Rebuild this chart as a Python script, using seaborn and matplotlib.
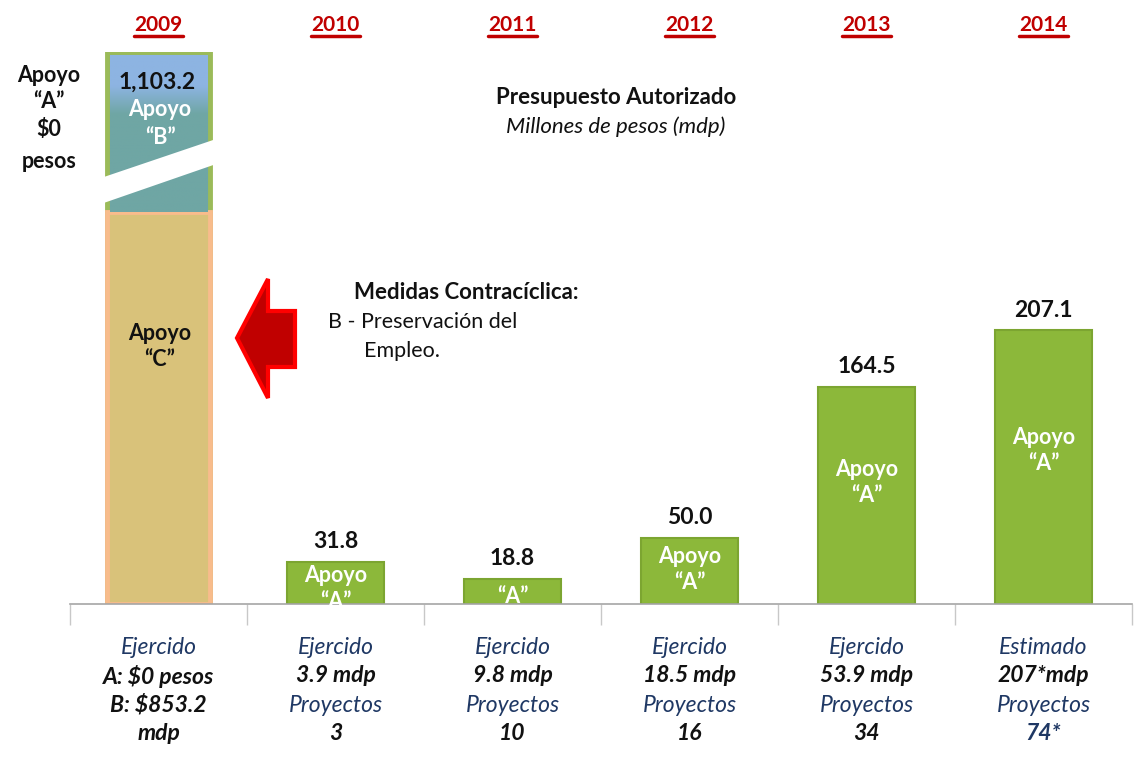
import numpy as np
import matplotlib
matplotlib.use("Agg")
import matplotlib.pyplot as plt
import seaborn as sns
from matplotlib import transforms
from matplotlib.patches import Polygon
from matplotlib.lines import Line2D

# --- data ---
years = ['2009', '2010', '2011', '2012', '2013', '2014']
autorizado = [1103.2, 31.8, 18.8, 50.0, 164.5, 207.1]
apoyo_c_2009 = 250.0
apoyo_b_2009 = 853.2
value_labels = ['1,103.2', '31.8', '18.8', '50.0', '164.5', '207.1']
inbar_labels = ['', 'Apoyo\n\u201cA\u201d', '\u201cA\u201d', 'Apoyo\n\u201cA\u201d',
                'Apoyo\n\u201cA\u201d', 'Apoyo\n\u201cA\u201d']

line1 = ['Ejercido', 'Ejercido', 'Ejercido', 'Ejercido', 'Ejercido', 'Estimado']
line2 = ['A: $0 pesos', '3.9 mdp', '9.8 mdp', '18.5 mdp', '53.9 mdp', '207*mdp']
line3 = ['B: $853.2', 'Proyectos', 'Proyectos', 'Proyectos', 'Proyectos', 'Proyectos']
line4 = ['mdp', '3', '10', '16', '34', '74*']

sns.set_style('white')
plt.rcParams['font.family'] = ['Lato', 'DejaVu Sans']

W, H = 1143, 761
fig = plt.figure(figsize=(W / 100, H / 100), dpi=100)


def fx(px):
    return px / W


def fy(py):
    return 1 - py / H


# axes: baseline at y=604px, 2009 bar top at y=52px
ax = fig.add_axes([fx(70), fy(604), fx(1132 - 70), (604 - 52) / H])

GREEN = '#8CB83A'
TEAL = '#6FA6A4'
LIGHTBLUE = '#8DB4E2'
TAN = '#D9C27A'
NAVY = '#1F3864'
DARKRED = '#C00000'
INK = '#111111'

total_2009 = apoyo_c_2009 + apoyo_b_2009
sns.barplot(x=years[:1], y=[total_2009], order=years, color=TEAL, width=0.58,
            edgecolor='#9BBB59', linewidth=3.5, saturation=1, ax=ax)
sns.barplot(x=years[:1], y=[apoyo_c_2009], order=years, color=TAN, width=0.58,
            edgecolor='#F8BC8C', linewidth=3.5, saturation=1, ax=ax)
sns.barplot(x=years[1:], y=autorizado[1:], order=years, color=GREEN, width=0.55,
            edgecolor='#7CA531', linewidth=1.5, saturation=1, ax=ax)

# broken-axis style scale: compress the tall 2009 bar
knots_data = np.array([-1000, 0, 215, apoyo_c_2009, total_2009, 3000])
knots_disp = np.array([-1300, 0, 284, 392, 552, 900])


def fwd(y):
    return np.interp(y, knots_data, knots_disp)


def inv(d):
    return np.interp(d, knots_disp, knots_data)


ax.set_yscale('function', functions=(fwd, inv))
ax.set_ylim(0, total_2009)
ax.set_xlim(-0.5, 5.5)
ax.set_yticks([])
ax.set_xticks([])
ax.set_xticks(np.arange(-0.5, 6, 1), minor=True)
ax.tick_params(axis='x', which='minor', direction='out', length=15, width=1,
               color='#C8C8C8', bottom=True)
for s in ['top', 'right', 'left']:
    ax.spines[s].set_visible(False)
ax.spines['bottom'].set_color('#A6A6A6')
ax.spines['bottom'].set_linewidth(1.2)
ax.set_xlabel('')
ax.set_ylabel('')
ax.patch.set_alpha(0)

green_bars = ax.patches[2:]

# value labels above green bars
for i in range(1, 6):
    ax.annotate(value_labels[i], (i, autorizado[i]), xytext=(0, 7),
                textcoords='offset points', ha='center', va='bottom',
                fontsize=16.5, fontweight='bold', color=INK, zorder=6)

# in-bar labels, clipped to their bar like the original
inbar_frac = [None, 0.36, 0.30, 0.52, 0.56, 0.56]
for i in range(1, 6):
    t = ax.text(i, autorizado[i] * inbar_frac[i], inbar_labels[i], ha='center',
                va='center', color='white', fontsize=15.5, fontweight='bold',
                linespacing=1.3, zorder=5)
    t.set_clip_path(green_bars[i - 1])

# gradient on the 2009 "B" segment
fig.canvas.draw()
bar_b = ax.patches[0]
bb = bar_b.get_window_extent()
y_c = ax.transData.transform((0, apoyo_c_2009))[1]
gx0, gx1 = bb.x0 + 2.5, bb.x1 - 2.5
gy0, gy1 = y_c, bb.y1 - 2.5
gax = fig.add_axes([gx0 / W, gy0 / H, (gx1 - gx0) / W, (gy1 - gy0) / H], zorder=0.5)
gax.axis('off')
n = 200
frac = np.linspace(0, 1, n)  # 0 = top
mix = np.interp(frac, [0, 0.2, 0.38, 1], [0, 0, 1, 1])
c_top = np.array(matplotlib.colors.to_rgb(LIGHTBLUE))
c_bot = np.array(matplotlib.colors.to_rgb(TEAL))
grad = (1 - mix)[:, None] * c_top + mix[:, None] * c_bot
gax.imshow(grad[:, None, :], aspect='auto', extent=(0, 1, 0, 1))

# white break band across the 2009 bar
band = Polygon([(fx(95), fy(180)), (fx(222), fy(137)), (fx(222), fy(162)),
                (fx(95), fy(206))], closed=True, transform=fig.transFigure,
               facecolor='white', edgecolor='none', zorder=2)
fig.patches.append(band)

# 2009 texts
fig.text(fx(157), fy(82), value_labels[0], ha='center', va='center', fontsize=16.5,
         fontweight='bold', color=INK, zorder=4)
fig.text(fx(160), fy(110), 'Apoyo', ha='center', va='center', fontsize=15.5,
         fontweight='bold', color='white', zorder=4)
fig.text(fx(160), fy(137), '\u201cB\u201d', ha='center', va='center', fontsize=15.5,
         fontweight='bold', color='white', zorder=4)
fig.text(fx(160), fy(333), 'Apoyo', ha='center', va='center', fontsize=15.5,
         fontweight='bold', color=INK, zorder=4)
fig.text(fx(160), fy(360), '\u201cC\u201d', ha='center', va='center', fontsize=15.5,
         fontweight='bold', color=INK, zorder=4)
for txt, py in zip(['Apoyo', '\u201cA\u201d', '$0', 'pesos'], [76, 101, 129, 162]):
    fig.text(fx(49), fy(py), txt, ha='center', va='center', fontsize=15.5,
             fontweight='bold', color=INK)

# title
fig.text(fx(616), fy(98), 'Presupuesto Autorizado', ha='center', va='center',
         fontsize=16, fontweight='bold', color=INK)
fig.text(fx(616), fy(127), 'Millones de pesos (mdp)', ha='center', va='center',
         fontsize=16, fontstyle='italic', color=INK)

# medidas text
fig.text(fx(466), fy(292), 'Medidas Contrac\u00edclica:', ha='center', va='center',
         fontsize=16, fontweight='bold', color=INK)
fig.text(fx(328), fy(322), 'B - Preservaci\u00f3n del', ha='left', va='center',
         fontsize=15.5, color=INK)
fig.text(fx(364), fy(351), 'Empleo.', ha='left', va='center',
         fontsize=15.5, color=INK)

# red arrow
arrow = Polygon([(fx(237), fy(338)), (fx(268), fy(279)), (fx(268), fy(311)),
                 (fx(295), fy(311)), (fx(295), fy(367)), (fx(268), fy(367)),
                 (fx(268), fy(398))], closed=True, transform=fig.transFigure,
                facecolor=DARKRED, edgecolor='#FF0000', linewidth=3, zorder=2)
fig.patches.append(arrow)

# year headers (underlined)
blend = transforms.blended_transform_factory(ax.transData, fig.transFigure)
year_texts = []
for i, yr in enumerate(years):
    t = fig.text(i, fy(25), yr, ha='center', va='center', fontsize=15,
                 fontweight='bold', color=DARKRED, transform=blend)
    year_texts.append(t)

# texts under the axis
rows = [647, 676, 705, 733]
for i in range(6):
    fig.text(i, fy(rows[0]), line1[i], transform=blend, ha='center', va='center',
             fontsize=16.5, fontstyle='italic', color=NAVY)
    fig.text(i, fy(rows[1]), line2[i], transform=blend, ha='center', va='center',
             fontsize=16.5, fontstyle='italic', fontweight='bold', color=INK)
    if i == 0:
        fig.text(i, fy(rows[2]), line3[i], transform=blend, ha='center', va='center',
                 fontsize=16.5, fontstyle='italic', fontweight='bold', color=INK)
    else:
        fig.text(i, fy(rows[2]), line3[i], transform=blend, ha='center', va='center',
                 fontsize=16.5, fontstyle='italic', color=NAVY)
    fig.text(i, fy(rows[3]), line4[i], transform=blend, ha='center', va='center',
             fontsize=16.5, fontstyle='italic', fontweight='bold',
             color=NAVY if i == 5 else INK)

fig.canvas.draw()
r = fig.canvas.get_renderer()
for t in year_texts:
    e = t.get_window_extent(renderer=r)
    fig.add_artist(Line2D([e.x0 / W, e.x1 / W], [(e.y0 - 1) / H, (e.y0 - 1) / H],
                          color=DARKRED, linewidth=2.5, transform=fig.transFigure))

fig.savefig('out.png', dpi=100)
